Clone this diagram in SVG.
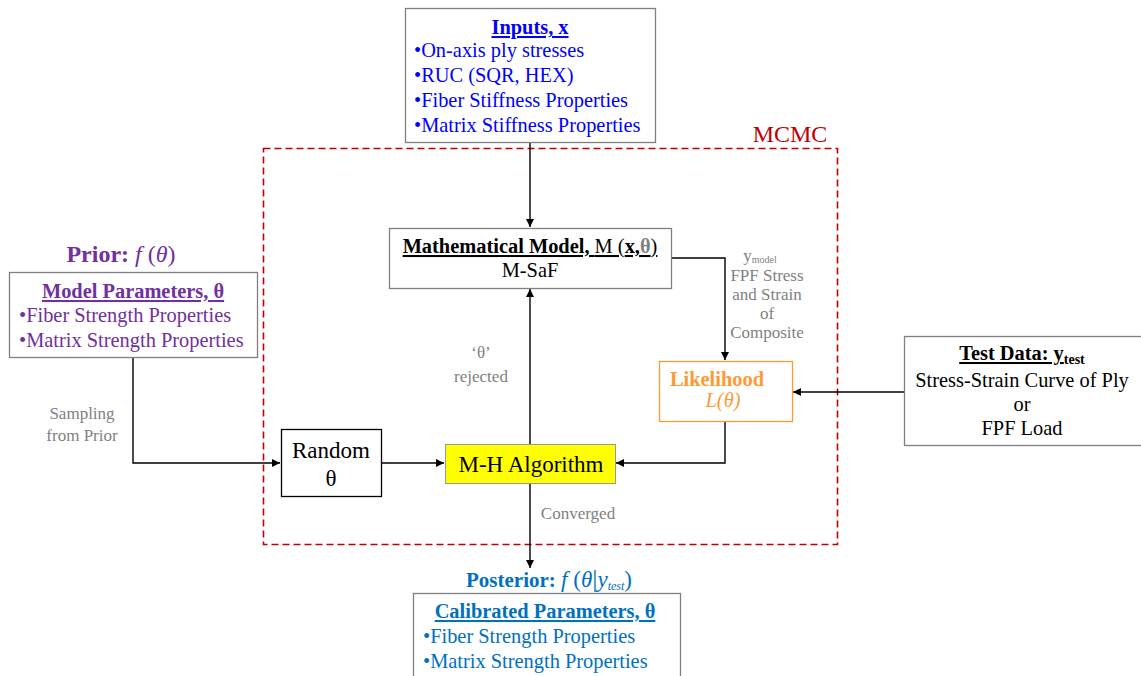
<svg xmlns="http://www.w3.org/2000/svg" width="1141" height="676" viewBox="0 0 1141 676">
<style>
text{font-family:"Liberation Serif","Times New Roman",serif;}
.box{fill:#fff;stroke:#7f7f7f;stroke-width:1.3;}
.bk{fill:#fff;stroke:#000;stroke-width:1.3;}
.ln{fill:none;stroke:#000;stroke-width:1.4;}
.gl{fill:#7f7f7f;font-size:17px;text-anchor:middle;}
.c{text-anchor:middle;}
.t{font-size:20.4px;}
</style>
<defs>
<marker id="ah" viewBox="0 0 10 10" refX="10" refY="5" markerWidth="8" markerHeight="8" markerUnits="userSpaceOnUse" orient="auto"><path d="M0,0L10,5L0,10z" fill="#000"/></marker>
</defs>
<g id="mcmc">
<rect x="263.5" y="148.5" width="574" height="396" fill="none" stroke="#C00000" stroke-width="1.6" stroke-dasharray="7,4"/>
<text x="790" y="142" font-size="24" fill="#C00000" class="c">MCMC</text>
</g>
<g id="connectors">
<path class="ln" d="M530,142V227" marker-end="url(#ah)"/>
<path class="ln" d="M671,258H725V360" marker-end="url(#ah)"/>
<path class="ln" d="M904,392H793" marker-end="url(#ah)"/>
<path class="ln" d="M725,421V463H616" marker-end="url(#ah)"/>
<path class="ln" d="M133,357V463H280" marker-end="url(#ah)"/>
<path class="ln" d="M381,463H444" marker-end="url(#ah)"/>
<path class="ln" d="M530,444V289" marker-end="url(#ah)"/>
<path class="ln" d="M530,483V568" marker-end="url(#ah)"/>
<text class="gl" font-size="16" x="760" y="261">y<tspan font-size="10" dy="2">model</tspan></text>
<text class="gl" font-size="16"><tspan x="767" y="281">FPF Stress</tspan><tspan x="767" y="300">and Strain</tspan><tspan x="767" y="319">of</tspan><tspan x="767" y="338">Composite</tspan></text>
<text class="gl"><tspan x="481" y="358">‘θ’</tspan><tspan x="481" y="382">rejected</tspan></text>
<text class="gl"><tspan x="82" y="419">Sampling</tspan><tspan x="82" y="441">from Prior</tspan></text>
<text class="gl" x="578" y="519">Converged</text>
</g>
<g id="inputs">
<rect class="box" x="405.5" y="8.5" width="250" height="134"/>
<text x="530" y="34" class="t c" font-weight="bold" fill="#0000FF" text-decoration="underline">Inputs, x</text>
<text class="t" fill="#0000FF"><tspan x="414" y="57">•On-axis ply stresses</tspan><tspan x="414" y="82">•RUC (SQR, HEX)</tspan><tspan x="414" y="107">•Fiber Stiffness Properties</tspan><tspan x="414" y="132">•Matrix Stiffness Properties</tspan></text>
</g>
<g id="model">
<rect class="box" x="389.5" y="228.5" width="282" height="60"/>
<text x="530" y="253" class="t c" text-decoration="underline"><tspan font-weight="bold">Mathematical Model, </tspan>M (<tspan font-weight="bold">x,</tspan><tspan font-weight="bold" fill="#7f7f7f">θ</tspan>)</text>
<text x="530" y="277" class="t c">M-SaF</text>
</g>
<g id="prior">
<text x="121" y="262" font-size="24" fill="#7030A0" class="c"><tspan font-weight="bold">Prior: </tspan><tspan font-style="italic">f</tspan> (<tspan font-style="italic">θ</tspan>)</text>
<rect class="box" x="9.5" y="272.5" width="248" height="85"/>
<text x="133" y="298" class="t c" font-weight="bold" fill="#7030A0" text-decoration="underline">Model Parameters, θ </text>
<text class="t" fill="#7030A0"><tspan x="19" y="322">•Fiber Strength Properties</tspan><tspan x="19" y="347">•Matrix Strength Properties</tspan></text>
</g>
<g id="likelihood">
<rect x="659.5" y="361.5" width="133" height="60" fill="#fff" stroke="#FF9933" stroke-width="1.3"/>
<text x="717" y="386" class="t c" font-weight="bold" fill="#FF9933">Likelihood</text>
<text x="723" y="407" class="t c" font-style="italic" fill="#FF9933">L(θ)</text>
</g>
<g id="testdata">
<rect class="box" x="904.5" y="336.5" width="240" height="109"/>
<text x="1022" y="360" class="t c"><tspan font-weight="bold" text-decoration="underline">Test Data: y</tspan><tspan font-weight="bold" font-size="14" dy="4">test</tspan></text>
<text class="t c"><tspan x="1022" y="387">Stress-Strain Curve of Ply</tspan><tspan x="1022" y="411">or</tspan><tspan x="1022" y="435">FPF Load</tspan></text>
</g>
<g id="random">
<rect class="bk" x="281.5" y="429.5" width="100" height="67"/>
<text font-size="23" class="c"><tspan x="331" y="458">Random</tspan><tspan x="331" y="486">θ</tspan></text>
</g>
<g id="mh">
<rect x="445.5" y="444.5" width="170" height="39" fill="#FFFF00" stroke="#999" stroke-width="1"/>
<text x="531" y="472" font-size="23" class="c">M-H Algorithm</text>
</g>
<g id="posterior">
<text x="549" y="587" font-size="21" fill="#0070C0" class="c"><tspan font-weight="bold">Posterior: </tspan><tspan font-size="23"><tspan font-style="italic">f</tspan> (<tspan font-style="italic">θ</tspan><tspan font-size="26">|</tspan><tspan font-style="italic">y</tspan><tspan font-size="12" font-style="italic" dy="3">test</tspan><tspan dy="-3">)</tspan></tspan></text>
<rect class="box" x="413.5" y="593.5" width="267" height="90"/>
<text x="545" y="618" class="t c" font-weight="bold" fill="#0070C0" text-decoration="underline">Calibrated Parameters, θ </text>
<text class="t" fill="#0070C0"><tspan x="423" y="643">•Fiber Strength Properties</tspan><tspan x="423" y="668">•Matrix Strength Properties</tspan></text>
</g>
</svg>
